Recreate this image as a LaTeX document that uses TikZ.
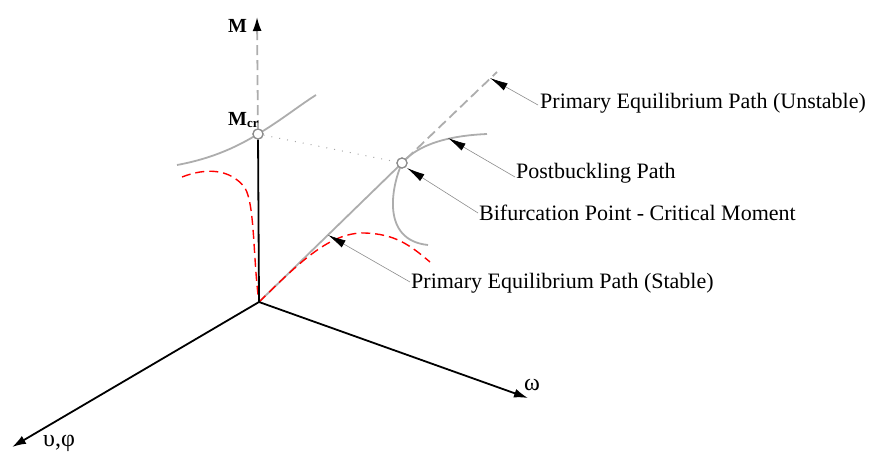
\documentclass[tikz,border=0pt]{standalone}
\usepackage{fontspec}
\setmainfont{Liberation Serif}
\usetikzlibrary{arrows.meta}
\begin{document}
\begin{tikzpicture}[x=1pt,y=-1pt,
  axisline/.style={line width=1.8pt, black},
  axisarrow/.style={-{Latex[length=14pt,width=9pt,black]}},
  grayline/.style={line width=1.8pt, draw=black!32},
  graydash/.style={grayline, dash pattern=on 10pt off 5pt},
  reddash/.style={line width=1.4pt, draw=red, dash pattern=on 9pt off 5pt},
  leader/.style={line width=0.6pt, draw=black!45, -{Latex[length=18pt,width=8pt,black]}},
  pointmark/.style={circle, draw=black!45, fill=white, line width=1.2pt, minimum size=10pt, inner sep=0pt},
  lbl/.style={font=\fontsize{22}{26}\selectfont, anchor=base west, inner sep=0pt},
  axlbl/.style={font=\fontsize{24}{28}\selectfont, anchor=base west, inner sep=0pt},
]
\useasboundingbox (0,0) rectangle (869,451);
% key points
\coordinate (O) at (259,302);
\coordinate (Mtop) at (257,17);
\coordinate (Vtip) at (12,447);
\coordinate (Wtip) at (528,398);
\coordinate (Uend) at (497,72);
\node[pointmark] (Mcr) at (258,134) {};
\node[pointmark] (B) at (402,163) {};
% gray curve through Mcr
\draw[grayline] (177,165) .. controls (215,158) and (240,145) .. (Mcr.center) .. controls (280,121) and (300,105) .. (316,95);
% postbuckling curve
\draw[grayline] (487,134) .. controls (440,136) and (415,148) .. (B.center) .. controls (392,185) and (380,240) .. (428,245);
% primary path
\draw[grayline] (O) -- (B.center);
\draw[graydash] (B) -- (Uend);
% dotted line
\draw[line width=1pt, draw=black!35, dash pattern=on 1pt off 7pt] (Mcr) -- (B);
% red dashed curves
\draw[reddash] (182,177) .. controls (205,168) and (230,168) .. (245,188) .. controls (255,205) and (253,260) .. (O);
\draw[reddash] (O) .. controls (300,262) and (330,232) .. (365,233) .. controls (395,234) and (410,245) .. (430,262);
% axes
\draw[axisline] (O) -- (Mcr);
\draw[graydash, {Latex[length=14pt,width=9pt,black]}-] (Mtop) -- (Mcr);
\draw[axisline, axisarrow] (O) -- (Vtip);
\draw[axisline, axisarrow] (O) -- (Wtip);
\node[pointmark] at (Mcr) {};
\node[pointmark] at (B) {};
% axis labels
\node[axlbl, font=\fontsize{20}{24}\selectfont\bfseries] (Mlab) at (228,32) {M};
\node[axlbl, font=\fontsize{20}{24}\selectfont\bfseries] (Mcrlab) at (228,125) {M\raisebox{-2pt}{\fontsize{13}{13}\selectfont cr}};
\node[axlbl] (Wlab) at (524,390) {ω};
\node[axlbl] (Vlab) at (43,446) {υ,φ};
% labels
\node[lbl] (Lu) at (540,108) {Primary Equilibrium Path (Unstable)};
\node[lbl] (Lp) at (516,178) {Postbuckling Path};
\node[lbl] (Lb) at (479,220) {Bifurcation Point - Critical Moment};
\node[lbl] (Ls) at (411,288) {Primary Equilibrium Path (Stable)};
% leader tips
\coordinate (Tu) at (490,78);
\coordinate (Tp) at (448,138);
\coordinate (Tb) at (407,168);
\coordinate (Ts) at (328,235);
\draw[leader] (538,105) -- (Tu);
\draw[leader] (515,177) -- (Tp);
\draw[leader] (478,213) -- (Tb);
\draw[leader] (410,282) -- (Ts);
\end{tikzpicture}
\end{document}
